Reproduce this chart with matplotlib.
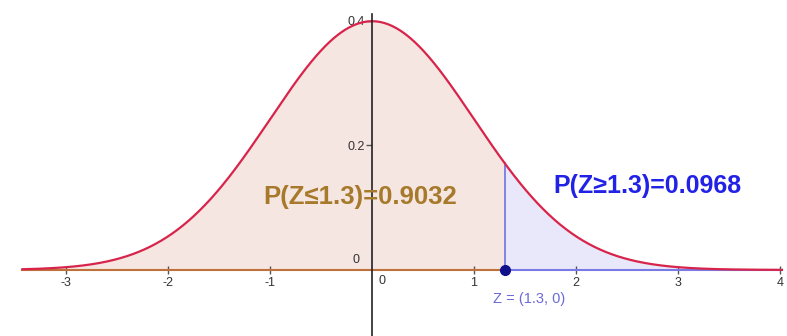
import numpy as np
import matplotlib
matplotlib.use("Agg")
import matplotlib.pyplot as plt

# data
z_value = 1.3
p_left_label = "P(Z\u22641.3)=0.9032"
p_right_label = "P(Z\u22651.3)=0.0968"
point_label = "Z = (1.3, 0)"
x_ticks = [-3, -2, -1, 1, 2, 3, 4]
y_ticks = [0.2, 0.4]
x_start, x_end = -3.43, 4.02

plt.rcParams['font.family'] = ['Liberation Sans', 'DejaVu Sans']

def pdf(x):
    return np.exp(-x**2 / 2) / np.sqrt(2 * np.pi)

fig = plt.figure(figsize=(7.87, 3.36), dpi=100)
ax = fig.add_axes([0, 0, 1, 1])
ax.set_xlim(-3.65, 4.07)
ax.set_ylim(-0.106, 0.433)

xl = np.linspace(x_start, z_value, 400)
xr = np.linspace(z_value, x_end, 300)
ax.fill_between(xl, 0, pdf(xl), color='#f5e6e2', lw=0, zorder=1)
ax.fill_between(xr, 0, pdf(xr), color='#e8e8fa', lw=0, zorder=1)
ax.plot([x_start, z_value], [0, 0], color='#c0703a', lw=1.5, zorder=2)
ax.plot([z_value, x_end], [0, 0], color='#7a7ae6', lw=1.5, zorder=2)
ax.plot([z_value, z_value], [0, pdf(z_value)], color='#7a7ae6', lw=1.3, zorder=2)
xs = np.linspace(x_start, x_end, 800)
ax.plot(xs, pdf(xs), color='#d8244a', lw=1.6, zorder=3)
ax.plot([z_value], [0], 'o', color='#10108a', ms=7, zorder=5)

# axes
for s in ['top', 'right']:
    ax.spines[s].set_visible(False)
ax.spines['left'].set_position(('data', 0))
ax.spines['bottom'].set_position(('data', 0))
ax.spines['left'].set_bounds(-0.106, 0.41)
ax.spines['left'].set_color('#222222')
ax.spines['left'].set_linewidth(1.2)
ax.spines['left'].set_zorder(4)
ax.spines['bottom'].set_visible(False)
ax.set_xticks(x_ticks)
ax.set_xticklabels([str(t) for t in x_ticks])
ax.set_yticks(y_ticks)
ax.set_yticklabels([str(t) for t in y_ticks])
ax.tick_params(axis='x', direction='inout', length=6, width=1, color='#555555',
               labelsize=9, labelcolor='#333333', pad=2)
ax.tick_params(axis='y', direction='out', length=4, width=1, color='#555555',
               labelsize=9, labelcolor='#333333', pad=1)
ax.text(-0.16, 0.006, "0", fontsize=9, color='#333333', ha='center', va='bottom')
ax.text(0.1, -0.008, "0", fontsize=9, color='#333333', ha='center', va='top')

ax.text(-0.12, 0.117, p_left_label, fontsize=18.5, fontweight='bold', color='#a7792a',
        ha='center', va='center', zorder=6)
ax.text(2.7, 0.135, p_right_label, fontsize=18, fontweight='bold', color='#2222e6',
        ha='center', va='center', zorder=6)
ax.text(1.54, -0.046, point_label, fontsize=10.5, color='#6a6ad8',
        ha='center', va='center')

fig.savefig("out.png", dpi=100)
